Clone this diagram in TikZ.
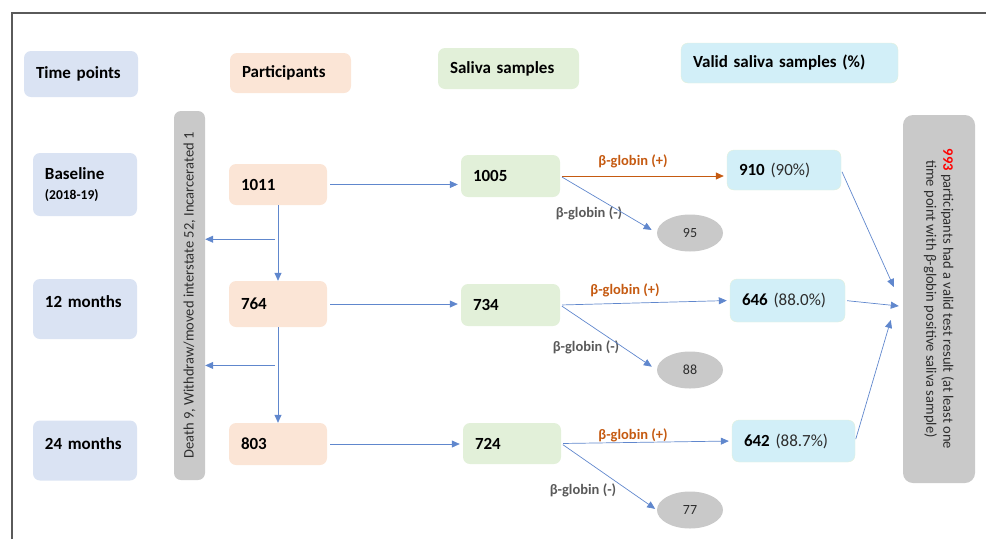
\documentclass[tikz,border=0pt]{standalone}
\usepackage{fontspec}
\setmainfont{Carlito}
\usepackage{tikz}
\usetikzlibrary{shapes.geometric, arrows.meta, calc}
\definecolor{timeblue}{RGB}{218,227,243}
\definecolor{partpeach}{RGB}{251,229,214}
\definecolor{salgreen}{RGB}{226,240,217}
\definecolor{validcyan}{RGB}{210,239,248}
\definecolor{bargray}{RGB}{201,201,201}
\definecolor{linkblue}{RGB}{68,114,196}
\definecolor{plusorange}{RGB}{197,90,17}
\definecolor{minusgray}{RGB}{89,89,89}
\definecolor{framegray}{RGB}{90,90,90}
\definecolor{inkgray}{RGB}{45,45,45}

\begin{document}
\begin{tikzpicture}[x=1pt, y=-1pt,
	cell/.style={rectangle, rounded corners=7pt, inner xsep=12pt, align=left, font=\bfseries\fontsize{17}{20}\selectfont},
	timebox/.style={cell, fill=timeblue},
	monthbox/.style={timebox, text width=80pt, text height=12pt, text depth=15pt, inner ysep=16pt, minimum height=60pt},
	partbox/.style={cell, fill=partpeach},
	salbox/.style={cell, fill=salgreen},
	validbox/.style={cell, fill=validcyan, draw=salgreen},
	negative/.style={ellipse, fill=bargray, minimum width=66pt, minimum height=37pt, text=inkgray, font=\fontsize{14}{16}\selectfont},
	sidebar/.style={rectangle, rounded corners=7pt, fill=bargray, text=inkgray, font=\fontsize{14.5}{17}\selectfont},
	plus/.style={text=plusorange, font=\bfseries\fontsize{14.5}{17}\selectfont},
	minus/.style={text=minusgray, font=\bfseries\fontsize{14.5}{17}\selectfont},
	arrow/.style={-{Triangle[length=8pt, width=7pt]}, draw=linkblue!85, line width=0.7pt},
	pluslink/.style={arrow, draw=plusorange}
]
\useasboundingbox (0,0) rectangle (986,539);
\draw[framegray, line width=1.5pt] (12,539) -- (12,13) -- (986,13);

% Column headers
\node[timebox, text width=90pt, minimum height=46pt] (tp) at (81,74) {Time points};
\node[partbox, text width=97pt, minimum height=40pt] (pp) at (290.5,73) {Participants};
\node[salbox, text width=117pt, minimum height=41pt] (sp) at (508.5,68.5) {Saliva samples};
\node[validbox, text width=193pt, minimum height=40pt] (vp) at (789.5,63) {Valid saliva samples (\%)};

% Time points
\node[timebox, text width=80pt, minimum height=63pt] (t1) at (85,184.5) {Baseline\\{\fontsize{13.5}{16}\selectfont (2018-19)}};
\node[monthbox] (t2) at (85,309) {12 months};
\node[monthbox] (t3) at (85,450.5) {24 months};

% Lost to follow-up (rotated, so its south side faces right)
\node[sidebar, rotate=90, minimum width=369pt, minimum height=31pt] (drop) at (189.5,295.5) {Death 9, Withdraw/moved interstate 52, Incarcerated 1};

% Participants
\node[partbox, text width=74pt, minimum height=41pt] (p1) at (278,184.5) {1011};
\node[partbox, text width=74pt, minimum height=46pt] (p2) at (278,304) {764};
\node[partbox, text width=74pt, minimum height=42pt] (p3) at (278,444) {803};

% Saliva samples
\node[salbox, text width=75pt, minimum height=42pt] (s1) at (510.5,176) {1005};
\node[salbox, text width=75pt, minimum height=42pt] (s2) at (510.5,305) {734};
\node[salbox, text width=74pt, minimum height=41pt] (s3) at (512,443.5) {724};

% Valid saliva samples
\node[validbox, text width=90pt, minimum height=40pt] (v1) at (784,170) {910 {\mdseries\color{inkgray}(90\%)}};
\node[validbox, text width=91pt, minimum height=43pt] (v2) at (787.5,300.5) {646 {\mdseries\color{inkgray}(88.0\%)}};
\node[validbox, text width=99pt, minimum height=42pt] (v3) at (793.5,441) {642 {\mdseries\color{inkgray}(88.7\%)}};

% beta-globin negative samples
\node[negative] (e1) at (690,233) {95};
\node[negative] (e2) at (690,370) {88};
\node[negative] (e3) at (690,510) {77};

% Overall result (rotated, so its south side faces left)
\node[sidebar, rotate=-90, minimum width=368pt, minimum height=72pt, align=center, rounded corners=10pt] (res) at (939,299)
	{{\color{red}\bfseries 993} participants had a valid test result (at least one\\time point with β-globin positive saliva sample)};

% Branch labels
\node[plus] (g1p) at (633,161) {β-globin (+)};
\node[minus] (g1m) at (589,213) {β-globin (-)};
\node[plus] (g2p) at (625,290) {β-globin (+)};
\node[minus] (g2m) at (586,347) {β-globin (-)};
\node[plus] (g3p) at (633,435) {β-globin (+)};
\node[minus] (g3m) at (583,490) {β-globin (-)};

% Participants to saliva samples
\draw[arrow, shorten <=3pt, shorten >=3pt] (p1.east) -- (p1.east -| s1.west);
\draw[arrow, shorten <=3pt, shorten >=3pt] (p2.east) -- (p2.east -| s2.west);
\draw[arrow, shorten <=3pt, shorten >=3pt] (p3.east) -- (p3.east -| s3.west);

% Follow-up and drop-outs
\draw[arrow] (p1) -- (p2);
\draw[arrow] (p2) -- (p3);
\coordinate (d1) at ($(p1.south)!0.45!(p2.north)$);
\coordinate (d2) at ($(p2.south)!0.4!(p3.north)$);
\draw[arrow] ($(d1)+(-3,0)$) -- (d1 -| drop.south);
\draw[arrow] ($(d2)+(-3,0)$) -- (d2 -| drop.south);

% Saliva samples split by beta-globin
\draw[pluslink, shorten <=2pt, shorten >=3pt] (s1.east) -- (s1.east -| v1.west);
\draw[arrow, shorten <=2pt, shorten >=6pt] (s1.east) -- (e1.west);
\draw[arrow, shorten <=2pt, shorten >=3pt] (s2.east) -- (v2.west);
\draw[arrow, shorten <=2pt, shorten >=6pt] (s2.east) -- (e2.west);
\draw[arrow, shorten <=2pt, shorten >=3pt] (s3.east) -- (v3.west);
\draw[arrow, shorten <=2pt, shorten >=2pt] (s3.east) -- (e3.west);

% Valid samples to result
\coordinate (r1) at ($(res.south)+(-9,-12)$);
\coordinate (r2) at ($(res.south)+(-4,7)$);
\coordinate (r3) at ($(res.south)+(-12,21)$);
\draw[arrow, shorten <=2pt] (v1.east) -- (r1);
\draw[arrow, shorten <=2pt] (v2.east) -- (r2);
\draw[arrow, shorten <=2pt] (v3.east) -- (r3);
\end{tikzpicture}
\end{document}
